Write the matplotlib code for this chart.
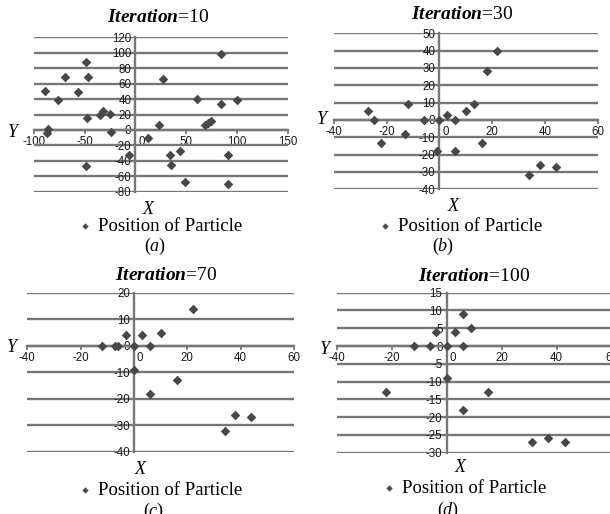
import matplotlib.pyplot as plt
from matplotlib.transforms import ScaledTranslation

plt.rcParams['font.family'] = 'Liberation Sans'
plt.rcParams['axes.unicode_minus'] = False
plt.rcParams['mathtext.fontset'] = 'custom'
plt.rcParams['mathtext.rm'] = 'Liberation Serif'
plt.rcParams['mathtext.it'] = 'Liberation Serif:italic'
plt.rcParams['mathtext.bf'] = 'Liberation Serif:bold:italic'

iterations = [10, 30, 70, 100]
tags = ['a', 'b', 'c', 'd']
legend_label = 'Position of Particle'

# particle positions
a_x = [-89, -86, -87, -76, -69, -49, -47, -56, -48, -49, -35, -32, -25, -24, -6, 12,
       23, 27, 84, 61, 84, 100, 68, 71, 74, 34, 44, 35, 49, 91, 91]
a_y = [50, 1, -4, 39, 69, 88, 69, 49, 16, -47, 19, 25, 21, -3, -32, -10,
       6, 66, 98, 40, 33, 39, 6, 9, 12, -32, -27, -46, -68, -32, -70]

b_x = [-27, -25, -22, -12, -13, -6, 0, -1, 3, 6, 6, 10, 13, 16, 18, 22, 34, 38, 44]
b_y = [5, 0, -13, 9, -8, 0, 0, -18, 3, 0, -18, 5, 9, -13, 28, 40, -32, -26, -27]

c_x = [-12, -7, -6, 0, -3, 3, 10, 6, 0, 6, 16, 22, 34, 38, 44]
c_y = [0, 0, 0, 0, 4, 4, 5, 0, -9, -18, -13, 14, -32, -26, -27]

d_x = [-12, -6, -4, 0, 3, 6, 6, 9, 0, -22, 15, 6, 31, 37, 43]
d_y = [0, 0, 4, 0, 4, 9, 0, 5, -9, -13, -13, -18, -27, -26, -27]

xs = [a_x, b_x, c_x, d_x]
ys = [a_y, b_y, c_y, d_y]

x_ticks = [range(-100, 151, 50), range(-40, 61, 20), range(-40, 61, 20), range(-40, 61, 20)]
y_ticks = [range(-80, 121, 20), range(-40, 51, 10), range(-40, 21, 10), range(-30, 16, 5)]

W, H = 610, 514
GRID = '#777777'
MARK = '#484848'
SERIF = 'Liberation Serif'


def fx(px):
    return px / W


def fy(py):
    return 1 - py / H


# layout in pixels: axes box (left, top, right, bottom), title, X, Y, legend, tag
boxes = [(33.7, 37.3, 288, 191.7), (334, 33.3, 597.7, 189.3),
         (27.3, 292.7, 294, 452), (336.7, 292.7, 611.7, 452.7)]
title_pos = [(158, 21.7), (462, 19.3), (166, 280), (474, 280.7)]
xlab_pos = [(148, 209), (453, 206.7), (140, 469.3), (460, 468)]
ylab_pos = [(12.7, 132.3), (321.7, 119), (11.7, 347.3), (325, 349.3)]
leg_pos = [(160, 226.7), (460, 226.7), (160, 490), (464.5, 488.3)]
tag_pos = [(155, 246.7), (443.3, 246.7), (154, 511), (448, 510)]

fig = plt.figure(figsize=(W / 100, H / 100), dpi=100)

for i in range(4):
    l, t, r, b = boxes[i]
    ax = fig.add_axes([fx(l), fy(b), (r - l) / W, (b - t) / H])
    xt, yt = list(x_ticks[i]), list(y_ticks[i])

    ax.scatter(xs[i], ys[i], marker='D', s=24, color=MARK, lw=0, zorder=3, label=legend_label)

    ax.set_xlim(xt[0], xt[-1])
    ax.set_ylim(yt[0], yt[-1])
    ax.set_xticks(xt)
    ax.set_yticks(yt)
    ax.set_axisbelow(True)
    ax.yaxis.grid(True, color=GRID, lw=1.7)

    for side in ['top', 'right']:
        ax.spines[side].set_visible(False)
    for side in ['left', 'bottom']:
        ax.spines[side].set_position(('data', 0))
        ax.spines[side].set_color(GRID)
        ax.spines[side].set_linewidth(1.7)

    ax.tick_params(axis='x', direction='out', length=3, width=1.3, color=GRID,
                   pad=1.5, labelsize=8.3, labelcolor='#1a1a1a')
    ax.tick_params(axis='y', length=0, pad=3, labelsize=8.3, labelcolor='#1a1a1a')

    # Excel nudges the x "0" label off the vertical axis
    shift = ScaledTranslation(0.06, 0, fig.dpi_scale_trans)
    for lab, v in zip(ax.get_xticklabels(), xt):
        if v == 0:
            lab.set_transform(lab.get_transform() + shift)

    tx, ty = title_pos[i]
    fig.text(fx(tx), fy(ty), r'$\mathbf{Iteration}$=' + str(iterations[i]),
             family=SERIF, size=14, ha='center', va='baseline')
    fig.text(fx(xlab_pos[i][0]), fy(xlab_pos[i][1]), 'X', family=SERIF, style='italic',
             size=13, ha='center', va='center')
    fig.text(fx(ylab_pos[i][0]), fy(ylab_pos[i][1]), 'Y', family=SERIF, style='italic',
             size=13, ha='center', va='center')
    fig.text(fx(tag_pos[i][0]), fy(tag_pos[i][1]), '$(' + tags[i] + ')$',
             size=13, ha='center', va='center')

    ax.legend(loc='center', bbox_to_anchor=(fx(leg_pos[i][0]), fy(leg_pos[i][1])),
              bbox_transform=fig.transFigure, frameon=False,
              prop={'family': SERIF, 'size': 13.5}, markerscale=0.65,
              handlelength=0.7, handletextpad=0.35, borderpad=0, borderaxespad=0)

fig.savefig('out.png', dpi=100)
